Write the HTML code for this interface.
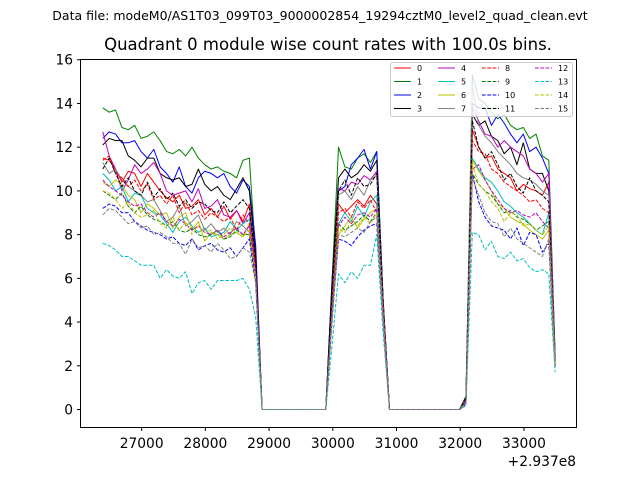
<!DOCTYPE html>
<html><head><meta charset="utf-8"><style>
body{margin:0;background:#fff}
svg text{font-family:"DejaVu Sans","Liberation Sans",sans-serif}
</style></head><body>
<svg id="chart" width="640" height="480" xmlns="http://www.w3.org/2000/svg">
<rect width="640" height="480" fill="#fff"/>
<text x="320" y="20" font-size="12.5" text-anchor="middle">Data file: modeM0/AS1T03_099T03_9000002854_19294cztM0_level2_quad_clean.evt</text>
<text x="328" y="50" font-size="16.5" text-anchor="middle">Quadrant 0 module wise count rates with 100.0s bins.</text>
<g id="plot"></g>
<rect x="80.5" y="59.5" width="496" height="368" fill="none" stroke="#000" stroke-width="1"/>
<text x="576" y="466" font-size="13.8" text-anchor="end">+2.937e8</text>
<g id="legend"></g>
</svg>
<script>
const times = [];
for (let i = 0; i < 72; i++) times.push(26390 + 100 * i);
const xTicks = [27000, 28000, 29000, 30000, 31000, 32000, 33000];
const yTicks = [0, 2, 4, 6, 8, 10, 12, 14, 16];
const names = ["0","1","2","3","4","5","6","7","8","9","10","11","12","13","14","15"];
const colors = ["#ff0000","#008000","#0000ff","#000000","#bf00bf","#00bfbf","#bfbf00","#808080","#ff0000","#008000","#0000ff","#000000","#bf00bf","#00bfbf","#bfbf00","#808080"];
const s0 = [11.5,11.4,11.0,10.4,10.9,10.8,10.2,10.8,10.4,10.0,9.7,9.5,9.8,9.2,9.3,9.6,8.9,9.2,8.8,9.3,8.7,9.1,8.6,9.4,6.5,0,0,0,0,0,0,0,0,0,0,0,5,9.4,9.0,9.3,9.6,9.3,9.8,9.4,4.5,0,0,0,0,0,0,0,0,0,0,0,0,0.3,12.8,12.0,11.5,11.6,11.0,10.8,10.6,10.0,10.3,10.1,10.0,9.8,10.4,2.0];
const s1 = [13.8,13.6,13.7,12.9,12.8,13.0,12.4,12.5,12.7,12.3,11.8,11.7,11.9,11.6,12.0,11.5,11.2,11.0,11.1,10.9,10.8,10.6,11.4,11.5,7.0,0,0,0,0,0,0,0,0,0,0,0,6,12.0,11.1,11.0,11.5,11.7,11.3,11.8,5.0,0,0,0,0,0,0,0,0,0,0,0,0,0.5,15.3,14.2,14.0,13.6,13.3,13.5,13.0,12.8,12.9,12.4,12.6,11.6,11.4,2.5];
const s2 = [12.4,12.7,12.6,12.2,12.2,12.3,11.8,11.5,11.9,11.1,10.8,10.4,11.1,10.2,9.9,10.6,10.9,10.8,10.6,10.8,10.2,9.9,10.5,10.2,7.5,0,0,0,0,0,0,0,0,0,0,0,6,10.0,10.2,11.2,11.5,11.9,11.0,11.8,5.0,0,0,0,0,0,0,0,0,0,0,0,0,0.4,14.0,13.8,13.8,13.0,13.5,13.1,12.6,12.2,12.6,11.8,12.0,11.5,10.8,2.3];
const s3 = [12.1,12.4,12.3,12.3,11.6,11.4,11.1,11.5,11.5,10.8,10.6,10.5,10.6,10.2,10.3,11.0,10.3,10.0,10.2,9.8,9.6,10.1,10.6,10.0,7.0,0,0,0,0,0,0,0,0,0,0,0,5.8,10.6,11.0,10.6,10.8,11.2,10.9,11.4,5.0,0,0,0,0,0,0,0,0,0,0,0,0,0.6,13.5,13.0,13.2,12.5,12.3,11.7,12.0,11.2,12.2,11.0,10.8,10.8,10.0,2.2];
const s4 = [12.7,11.6,11.0,10.0,10.5,11.2,10.8,11.0,11.3,10.8,10.0,9.8,9.9,10.0,9.5,10.1,9.2,9.3,9.6,8.9,8.8,9.1,8.5,9.0,6.5,0,0,0,0,0,0,0,0,0,0,0,5,10.1,10.0,10.4,10.3,10.7,10.5,10.9,4.8,0,0,0,0,0,0,0,0,0,0,0,0,0.4,13.8,13.2,12.6,12.5,12.0,12.3,12.0,11.8,11.6,11.0,10.8,10.4,10.8,2.4];
const s5 = [10.8,10.5,10.0,10.2,9.5,9.9,9.8,9.2,9.0,8.9,8.5,8.1,8.6,8.8,8.4,8.1,8.3,7.9,8.0,8.1,8.6,8.2,8.5,8.7,6.0,0,0,0,0,0,0,0,0,0,0,0,4.8,8.5,9.0,8.6,9.3,8.8,9.5,9.8,4.5,0,0,0,0,0,0,0,0,0,0,0,0,0.3,11.5,11.0,10.6,10.4,10.0,9.5,9.3,9.0,8.8,8.5,8.2,8.0,9.0,2.0];
const s6 = [10.4,10.2,10.5,10.3,9.8,9.6,9.0,9.4,9.2,8.9,9.0,8.3,8.8,9.0,8.2,8.6,7.7,8.1,8.0,7.8,8.0,8.1,7.9,8.5,6.0,0,0,0,0,0,0,0,0,0,0,0,4.5,8.0,8.4,8.8,8.3,8.7,9.0,9.2,4.5,0,0,0,0,0,0,0,0,0,0,0,0,0.3,11.4,10.9,10.5,10.0,9.4,9.2,8.8,8.6,8.5,8.2,8.0,7.8,8.2,2.0];
const s7 = [11.3,10.8,11.0,10.5,10.2,10.0,9.8,9.5,9.6,9.1,8.6,8.8,9.3,8.4,8.6,8.9,8.2,8.5,8.1,8.3,8.0,8.6,8.4,8.1,6.0,0,0,0,0,0,0,0,0,0,0,0,5,9.8,10.0,9.6,10.2,9.8,10.5,10.7,4.8,0,0,0,0,0,0,0,0,0,0,0,0,0.5,14.8,13.0,12.5,12.2,11.8,11.5,11.2,10.8,10.6,10.5,10.3,10.0,9.8,2.3];
const s8 = [11.4,11.6,10.8,10.6,10.2,10.5,10.0,10.3,9.6,9.8,9.4,9.8,9.0,9.5,8.9,9.1,8.7,9.0,8.8,8.6,8.8,8.2,8.9,8.5,6.5,0,0,0,0,0,0,0,0,0,0,0,5,9.0,9.2,8.8,9.5,9.2,9.6,9.0,4.5,0,0,0,0,0,0,0,0,0,0,0,0,0.3,12.3,11.8,11.7,11.0,10.8,10.4,10.2,10.0,9.8,9.5,9.6,9.2,9.0,2.0];
const s9 = [10.0,9.8,9.6,9.9,9.3,9.0,9.3,8.9,8.7,8.6,8.4,8.6,8.2,8.1,8.3,8.0,7.9,8.0,8.2,7.8,7.9,8.2,8.0,8.0,6.0,0,0,0,0,0,0,0,0,0,0,0,4.5,8.5,8.2,8.4,8.6,8.9,8.6,9.0,4.3,0,0,0,0,0,0,0,0,0,0,0,0,0.3,10.8,10.3,10.0,9.8,9.4,9.0,9.1,8.8,8.7,8.5,8.2,8.4,8.6,2.0];
const s10 = [9.2,9.4,9.3,9.0,9.0,8.6,8.4,8.2,8.1,8.0,7.8,7.9,7.6,7.5,7.8,7.3,7.5,7.6,7.3,7.2,7.4,7.0,7.4,7.8,5.8,0,0,0,0,0,0,0,0,0,0,0,4.2,7.8,7.7,7.5,7.9,8.2,8.4,8.5,4.0,0,0,0,0,0,0,0,0,0,0,0,0,0.2,10.8,9.5,8.8,8.4,8.3,8.2,7.8,8.3,7.5,8.1,8.0,7.2,7.6,1.9];
const s11 = [11.0,11.5,10.8,10.2,10.6,10.0,9.8,10.4,9.7,10.1,9.6,9.9,9.3,9.6,9.2,9.5,9.4,9.1,9.0,9.5,9.0,9.3,9.6,9.2,6.8,0,0,0,0,0,0,0,0,0,0,0,5.5,10.0,10.5,9.8,10.6,10.2,10.3,10.8,4.8,0,0,0,0,0,0,0,0,0,0,0,0,0.5,13.2,12.0,11.5,11.8,11.2,10.5,10.8,10.2,9.9,10.6,10.0,9.8,9.5,2.2];
const s12 = [10.5,10.2,10.0,9.8,9.5,9.3,9.4,9.0,8.8,9.0,8.6,8.4,8.7,8.5,8.2,8.4,8.1,8.0,8.2,7.9,8.1,8.3,8.0,8.4,6.2,0,0,0,0,0,0,0,0,0,0,0,4.6,8.4,8.8,8.5,8.9,9.0,8.8,9.2,4.4,0,0,0,0,0,0,0,0,0,0,0,0,0.3,11.0,11.2,10.5,10.0,9.6,9.2,9.0,9.1,8.9,8.8,9.0,8.6,8.3,2.0];
const s13 = [7.6,7.5,7.3,7.0,7.0,6.8,6.6,6.6,6.6,6.0,6.4,6.1,6.0,6.3,5.3,5.8,5.9,5.5,5.9,5.9,5.9,5.9,6.0,5.5,4.2,0,0,0,0,0,0,0,0,0,0,0,3.0,6.2,5.8,6.3,6.0,6.6,6.6,8.0,3.5,0,0,0,0,0,0,0,0,0,0,0,0,0.2,8.1,8.0,7.3,7.7,7.0,6.9,7.2,6.8,6.9,6.5,6.3,6.4,6.2,1.7];
const s14 = [10.0,9.9,9.6,9.2,9.5,9.0,8.8,8.9,9.1,8.5,8.3,8.8,8.2,8.6,8.0,8.4,8.1,8.2,7.8,8.0,8.3,8.1,7.9,8.2,6.0,0,0,0,0,0,0,0,0,0,0,0,4.3,8.3,8.1,8.6,8.4,8.8,8.5,9.0,4.3,0,0,0,0,0,0,0,0,0,0,0,0,0.3,11.2,10.3,10.0,9.5,9.2,8.6,9.0,8.9,8.4,8.5,8.2,8.0,8.4,2.0];
const s15 = [8.9,9.2,9.1,8.8,8.5,8.6,8.3,8.4,8.0,8.1,7.9,7.6,7.6,7.1,7.8,7.4,7.5,7.2,7.6,7.3,6.9,7.0,7.4,7.2,5.8,0,0,0,0,0,0,0,0,0,0,0,4.0,8.0,7.9,8.1,8.3,8.1,8.6,8.8,4.0,0,0,0,0,0,0,0,0,0,0,0,0,0.3,10.6,9.8,9.0,8.6,8.5,7.9,8.3,7.8,7.6,7.4,7.2,7.0,7.8,2.0];
const series = [s0,s1,s2,s3,s4,s5,s6,s7,s8,s9,s10,s11,s12,s13,s14,s15];

const NS = "http://www.w3.org/2000/svg";
const X0 = 80.5, X1 = 576.5, XMIN = 26040, XMAX = 33825;
const YZ = 409.5, YS = 21.86;
function xs(t){ return X0 + (t - XMIN) * (X1 - X0) / (XMAX - XMIN); }
function ys(v){ return YZ - v * YS; }
function mk(tag, attrs, parent){ const e = document.createElementNS(NS, tag); for (const k in attrs) e.setAttribute(k, attrs[k]); parent.appendChild(e); return e; }
const plot = document.getElementById('plot');

xTicks.forEach(t => {
  const l = mk('line', {x1: xs(t), x2: xs(t), y1: 427.5, y2: 431, stroke: '#000'}, plot);
  
  
  const tx = mk('text', {x: xs(t), y: 448, 'font-size': 13.8, 'text-anchor': 'middle'}, plot);
  tx.textContent = t;
  
  
});
yTicks.forEach(v => {
  const l = mk('line', {x1: 77, x2: 80.5, y1: ys(v), y2: ys(v), stroke: '#000'}, plot);
  
  
  const tx = mk('text', {x: 73, y: ys(v) + 5, 'font-size': 13.8, 'text-anchor': 'end'}, plot);
  tx.textContent = v;
  
  
});

series.forEach((s, k) => {
  const d = s.map((v, i) => (i ? 'L' : 'M') + xs(times[i]).toFixed(2) + ' ' + ys(v).toFixed(2)).join(' ');
  const p = mk('path', {d: d, fill: 'none', stroke: colors[k], 'stroke-width': 1, 'stroke-linejoin': 'round'}, plot);
  if (k >= 8) p.setAttribute('stroke-dasharray', '3.7,1.6');
  
  
});

const lg = document.getElementById('legend');
const box = mk('rect', {x: 390.5, y: 62.5, width: 182, height: 54, rx: 2, fill: '#fff', 'fill-opacity': 0.8, stroke: '#ccc'}, lg);


const colX = [394, 438, 482, 535];
const rowY = [68, 81.5, 95, 108.5];
names.forEach((n, k) => {
  const c = Math.floor(k / 4), r = k % 4;
  const l = mk('line', {x1: colX[c], x2: colX[c] + 17, y1: rowY[r], y2: rowY[r], stroke: colors[k], 'stroke-width': 1}, lg);
  if (k >= 8) l.setAttribute('stroke-dasharray', '3.7,1.6');
  
  
  const t = mk('text', {x: colX[c] + 23, y: rowY[r] + 3, 'font-size': 8}, lg);
  t.textContent = n;
  
  
});
</script>
</body></html>
